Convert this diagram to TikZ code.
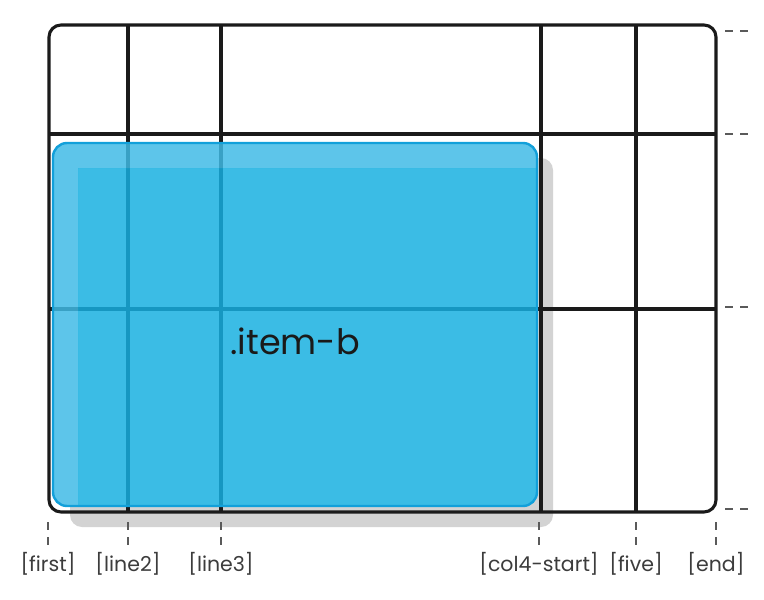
\documentclass[tikz,border=0pt]{standalone}
\usepackage{fontspec}
\setmainfont{Poppins}

\definecolor{itemblue}{HTML}{16B0E1}
\definecolor{itemlight}{HTML}{3FBBE6}
\definecolor{itemedge}{HTML}{12A0DA}
\definecolor{shadowgray}{HTML}{D3D3D3}
\definecolor{gridink}{HTML}{1A1A1A}
\definecolor{tickgray}{HTML}{5A5A5A}

\begin{document}
\begin{tikzpicture}
            [
                x=1pt, y=-1pt,
                gridline/.style={draw=gridink, line width=3.1pt},
                tickline/.style={draw=tickgray, line width=1.1pt, dash pattern=on 8pt off 7pt},
                linename/.style={font=\fontsize{20.5}{24}\selectfont, text=gridink!85, inner sep=0pt},
                itemfill/.style={fill opacity=0.84}
            ]
            \useasboundingbox (0,0) rectangle (764,600);
            % shadow behind the item
            \fill[shadowgray, rounded corners=12pt] (70,158) rectangle (553,527);
            \fill[white, rounded corners=14pt] (53,143) rectangle (537,506);
            % the grid
            \draw[gridline, rounded corners=12pt] (49,25) rectangle (716,512);
            \foreach \x in {128,221,541,636}
                \draw[gridline] (\x,25) -- (\x,512);
            \foreach \y in {134,309}
                \draw[gridline] (49,\y) -- (716,\y);
            % row ticks on the right
            \foreach \y in {31,134,307,509} {
                \coordinate (row-\y) at (725,\y);
                \draw[tickline] (row-\y) -- ++(24,0);
            }
            % column lines and their names
            \foreach \name/\x in {first/48,line2/128,line3/221,col4-start/539,five/636,end/716} {
                \coordinate (col-\name) at (\x,512);
                \node[linename, anchor=north] (label-\name) at (\x,552) {[\name]};
                \draw[tickline, shorten <=10pt, shorten >=7pt] (col-\name) -- (label-\name.north);
            }
            % the item
            \begin{scope}
                \clip[rounded corners=14pt] (53,143) rectangle (537,506);
                \fill[itemlight, itemfill] (53,143) -- (537,143) -- (537,168)
                    -- (78,168) -- (78,506) -- (53,506) -- cycle;
                \fill[itemblue, itemfill] (78,168) rectangle (560,530);
            \end{scope}
            \draw[itemedge, line width=2.4pt, rounded corners=14pt] (53,143) rectangle (537,506);
            \node[font=\fontsize{35}{40}\selectfont, text=gridink] (itemname) at (295,341) {.item-b};
        \end{tikzpicture}
\end{document}
